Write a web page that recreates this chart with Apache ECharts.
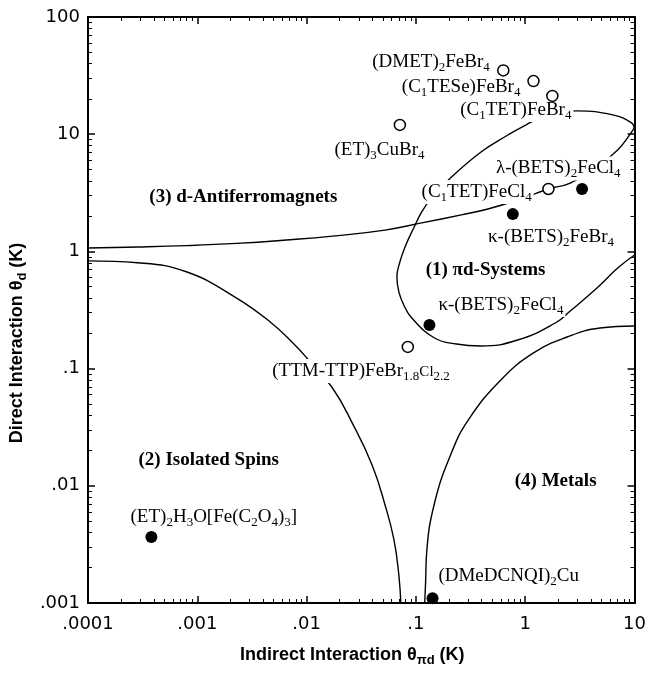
<!DOCTYPE html>
<html>
<head>
<meta charset="utf-8">
<script src="https://cdn.jsdelivr.net/npm/echarts@6/dist/echarts.min.js"></script>
<style>
  html, body { margin: 0; padding: 0; background: #fff; }
  #chart { width: 649px; height: 673px; }
</style>
</head>
<body>
<div id="chart"></div>
<script>
// Axis ranges (K) and tick labels, one label per decade
const xRange = [1e-4, 10];
const yRange = [1e-3, 100];
const xTickLabels = ['.0001', '.001', '.01', '.1', '1', '10'];
const yTickLabels = ['.001', '.01', '.1', '1', '10', '100'];

// Compounds: [θπd, θd]
const openPoints = [
  [0.63, 35],     // (DMET)2FeBr4
  [1.19, 28.4],   // (C1TESe)FeBr4
  [1.77, 21.2],   // (C1TET)FeBr4
  [0.0713, 12.0], // (ET)3CuBr4
  [1.63, 3.41],   // (C1TET)FeCl4
  [0.0843, 0.153] // (TTM-TTP)FeBr1.8Cl2.2
];
const filledPoints = [
  [3.31, 3.41],     // λ-(BETS)2FeCl4
  [0.77, 2.08],     // κ-(BETS)2FeBr4
  [0.133, 0.236],   // κ-(BETS)2FeCl4
  [3.8e-4, 0.00366],// (ET)2H3O[Fe(C2O4)3]
  [0.142, 0.0011]   // (DMeDCNQI)2Cu
];

// Region boundaries
const antiferroBoundary = [
  [1e-4, 1.07], [2.84e-4, 1.09], [8.05e-4, 1.12], [2.29e-3, 1.17], [6.49e-3, 1.25],
  [0.01725, 1.35], [0.0521, 1.52], [0.113, 1.75], [0.26, 2.05], [0.456, 2.30],
  [0.908, 2.80], [1.63, 3.41], [2.58, 3.83], [4.34, 5.15], [7.01, 7.33],
  [9.39, 10.4], [10, 11.5]
];
const isolatedBoundary = [
  [1e-4, 0.83], [2.84e-4, 0.80], [8.05e-4, 0.667], [2.29e-3, 0.400], [4.65e-3, 0.250],
  [7.50e-3, 0.165], [0.01047, 0.118], [0.01725, 0.0683], [0.02618, 0.0343],
  [0.0398, 0.0150], [0.0521, 0.0069], [0.0630, 0.00345], [0.0698, 0.00173], [0.0728, 0.001]
];
const metalBoundary = [
  [0.1203, 0.001], [0.1228, 0.00157], [0.1253, 0.00267], [0.148, 0.00713], [0.211, 0.01905],
  [0.301, 0.0364], [0.598, 0.0800], [1.19, 0.136], [2.42, 0.186], [4.82, 0.222], [10, 0.231]
];
const pdPocket = [
  [10, 10.9], [9.39, 12.5], [6.32, 14.6], [2.98, 15.8], [1.53, 14.3], [1.01, 11.98],
  [0.694, 9.84], [0.394, 7.05], [0.198, 4.07], [0.139, 2.86], [0.113, 2.17],
  [0.0955, 1.585], [0.0809, 1.135], [0.0713, 0.812], [0.0670, 0.605], [0.0698, 0.451],
  [0.0774, 0.349], [0.0916, 0.270], [0.148, 0.1824], [0.2344, 0.162], [0.394, 0.156],
  [0.853, 0.1754], [1.884, 0.245], [2.58, 0.310], [4.53, 0.487], [7.01, 0.721], [10, 0.931]
];

// Text placed in data space: [θπd, θd, text]
const compoundLabels = [
  [0.0382, 41.3, '(DMET){s|2}FeBr{s|4}'],
  [0.0713, 25.3, '(C{s|1}TESe)FeBr{s|4}'],
  [0.244, 16.1, '(C{s|1}TET)FeBr{s|4}'],
  [0.01725, 7.33, '(ET){s|3}CuBr{s|4}'],
  [0.518, 5.10, 'λ-(BETS){s|2}FeCl{s|4}'],
  [0.108, 3.21, '(C{s|1}TET)FeCl{s|4}'],
  [0.438, 1.33, 'κ-(BETS){s|2}FeBr{s|4}'],
  [0.154, 0.349, 'κ-(BETS){s|2}FeCl{s|4}'],
  [4.65e-3, 0.0955, '(TTM-TTP)FeBr{s|1.8}{m|Cl}{s|2.2}'],
  [2.35e-4, 0.00542, '(ET){s|2}H{s|3}O[Fe(C{s|2}O{s|4}){s|3}]'],
  [0.154, 0.0017, '(DMeDCNQI){s|2}Cu']
];
const regionLabels = [
  [3.49e-4, 2.91, '(3) d-Antiferromagnets'],
  [0.1178, 0.694, '(1) πd-Systems'],
  [2.78e-4, 0.0166, '(2) Isolated Spins'],
  [0.769, 0.0110, '(4) Metals']
];

const serif = 'Liberation Serif, Times New Roman, serif';
const sans = 'Liberation Sans, Arial, sans-serif';
const tickFont = 'DejaVu Sans, sans-serif';

// minor tick positions (2..9 per decade) expressed as exponents
function minorExponents(lo, hi) {
  const out = [];
  for (let e = lo; e < hi; e++) {
    for (let m = 2; m <= 9; m++) out.push(e + Math.log10(m));
  }
  return out;
}
const xExp = [Math.log10(xRange[0]), Math.log10(xRange[1])];
const yExp = [Math.log10(yRange[0]), Math.log10(yRange[1])];

function majorAxis(pos, range, labels, expLo, showLabel, extra, labelMargin) {
  return Object.assign({
    type: 'log', logBase: 10, position: pos,
    min: range[0], max: range[1],
    axisLine: { show: true, onZero: false, lineStyle: { color: '#000', width: 2 } },
    axisTick: { show: true, inside: true, length: 7, lineStyle: { color: '#000', width: 1.5 } },
    axisLabel: {
      show: showLabel, color: '#000', fontFamily: tickFont, fontSize: 18,
      margin: labelMargin || 8,
      formatter: v => labels[Math.round(Math.log10(v)) - expLo]
    },
    splitLine: { show: false },
    minorTick: { show: false }
  }, extra || {});
}
function minorAxis(pos, exp) {
  return {
    type: 'value', position: pos, min: exp[0], max: exp[1],
    axisLine: { show: false, onZero: false },
    axisTick: { show: true, inside: true, length: 4, lineStyle: { color: '#000', width: 1 },
                customValues: minorExponents(exp[0], exp[1]) },
    axisLabel: { show: false },
    splitLine: { show: false }
  };
}

const subStyle = (family, weight) => ({
  s: { fontFamily: family, fontWeight: weight, fontSize: 13, padding: [11, 0, 0, 0], color: '#000' },
  m: { fontFamily: family, fontWeight: weight, fontSize: 15, padding: [3, 0, 0, 0], color: '#000' }
});

const labelSeries = (rows, weight) => ({
  type: 'scatter', z: 3, symbolSize: 0, silent: true,
  itemStyle: { opacity: 1 },
  data: rows.map(r => ({ value: [r[0], r[1]], name: r[2] })),
  label: {
    show: true, position: 'right', distance: 0,
    formatter: p => p.name,
    fontFamily: serif, fontSize: 19, fontWeight: weight, color: '#000', opacity: 1,
    lineHeight: 22, backgroundColor: '#fff', padding: [1, 2],
    rich: subStyle(serif, weight)
  }
});

const curve = pts => ({
  type: 'line', z: 2, data: pts, showSymbol: false, symbol: 'none',
  smooth: 0.45, silent: true, clip: true,
  lineStyle: { color: '#000', width: 1.4 }
});

const chart = echarts.init(document.getElementById('chart'), null, { renderer: 'canvas' });
chart.setOption({
  animation: false,
  backgroundColor: '#fff',
  grid: { left: 83, right: 14, top: 17, bottom: 70, containLabel: false },
  xAxis: [
    majorAxis('bottom', xRange, xTickLabels, xExp[0], true, {
      name: 'Indirect Interaction θ{s|πd} (K)', nameLocation: 'middle', nameGap: 40,
      nameTextStyle: { fontFamily: sans, fontWeight: 'bold', fontSize: 18, color: '#000',
                       padding: [0, 18, 0, 0], rich: subStyle(sans, 'bold') }
    }, 12),
    minorAxis('bottom', xExp),
    majorAxis('top', xRange, xTickLabels, xExp[0], false),
    minorAxis('top', xExp)
  ],
  yAxis: [
    majorAxis('left', yRange, yTickLabels, yExp[0], true, {
      name: 'Direct Interaction θ{s|d} (K)', nameLocation: 'middle', nameGap: 38, nameRotate: 90,
      nameTextStyle: { fontFamily: sans, fontWeight: 'bold', fontSize: 18, color: '#000',
                       padding: [0, 66, 0, 0], rich: subStyle(sans, 'bold') }
    }),
    minorAxis('left', yExp),
    majorAxis('right', yRange, yTickLabels, yExp[0], false),
    minorAxis('right', yExp)
  ],
  series: [
    curve(antiferroBoundary),
    curve(isolatedBoundary),
    curve(metalBoundary),
    curve(pdPocket),
    labelSeries(compoundLabels, 'normal'),
    labelSeries(regionLabels, 'bold'),
    {
      type: 'scatter', z: 5, data: openPoints, symbol: 'circle', symbolSize: 11, silent: true,
      itemStyle: { color: '#fff', borderColor: '#000', borderWidth: 1.5, opacity: 1 }
    },
    {
      type: 'scatter', z: 5, data: filledPoints, symbol: 'circle', symbolSize: 12, silent: true,
      clip: false, itemStyle: { color: '#000', opacity: 1 }
    }
  ]
});
</script>
</body>
</html>
